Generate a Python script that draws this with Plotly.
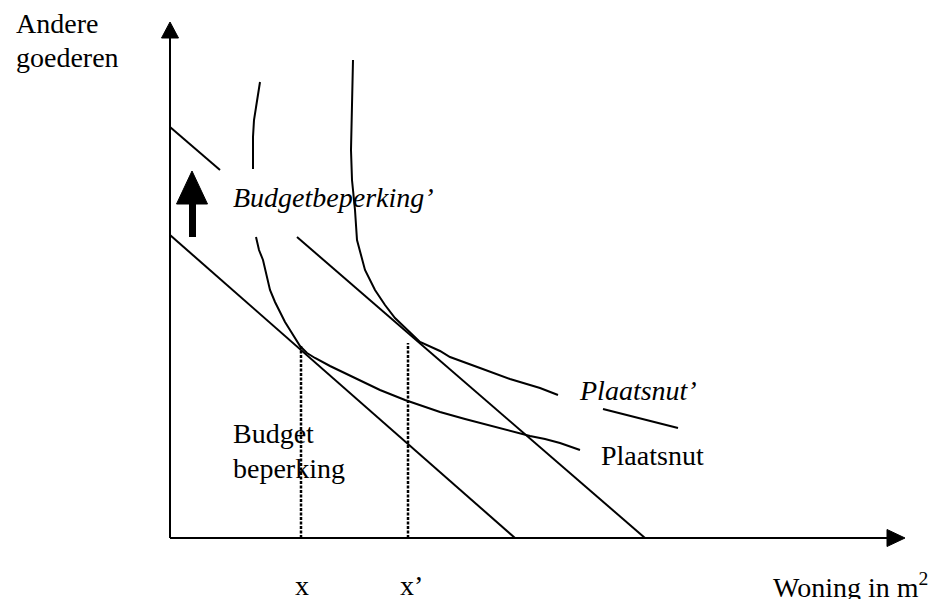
import plotly.graph_objects as go

# Diagram data (units: origin at axes crossing, x to the right, y upwards)
budget_low_x = [0, 345]
budget_low_y = [303, 0]
budget_high_x = [0, 50, None, 127, 475]
budget_high_y = [411, 368, None, 301, 0]

plaatsnut_x = [90, 87, 84, 83, 83, None, 86, 89, 93, 97, 100, 105, 110, 115, 120, 125, 130, 137,
               145, 160, 175, 185, 210, 235, 270, 295, 317, 343, 360, 375, 390, 410]
plaatsnut_y = [456, 438, 418, 401, 369, None, 301, 288, 278, 260, 248, 236, 226, 216, 208, 200, 192,
               185, 180, 172, 165, 160, 148, 138, 126, 119, 113, 106, 102, 99, 95, 88]

plaatsnut2_x = [183, 182, 181, 182, 185, 187, 190, 195, 205, 215, 225, 235, 250, 270, 280, 310,
                340, 370, 388, None, 433, 470, 508]
plaatsnut2_y = [478, 438, 388, 358, 328, 298, 286, 268, 248, 233, 220, 210, 196, 187, 181, 170,
                159, 150, 143, None, 129, 120, 110]

x_marks = [131, 238]
x_mark_tops = [192, 195]
x_labels = ["x", "x\u2019"]

axis_x_end = 735
axis_y_end = 516

shift_arrow_x = 22
shift_arrow_from = 301
shift_arrow_to = 367

texts = [
    ("Andere", -155, 514.5, False),
    ("goederen", -155, 480.5, False),
    ("Budgetbeperking\u2019", 62, 340.5, True),
    ("Plaatsnut\u2019", 408, 147.5, True),
    ("Plaatsnut", 430, 82.5, False),
    ("Budget", 62, 104.5, False),
    ("beperking", 62, 69.5, False),
    ("Woning in m<sup>2</sup>", 602, -47.5, False),
]

FONT = "Liberation Serif, Times New Roman, serif"
W, H = 947, 599
X0, Y0 = 170, 538  # pixel location of origin

fig = go.Figure()

def line(xs, ys, width=2, dash=None):
    fig.add_trace(go.Scatter(x=xs, y=ys, mode="lines", hoverinfo="skip",
                             line=dict(color="black", width=width, dash=dash),
                             connectgaps=False, showlegend=False))

def triangle(tip_x, tip_y, dx, dy, length, width):
    bx, by = tip_x - dx * length, tip_y - dy * length
    px, py = -dy, dx
    xs = [tip_x, bx + px * width / 2, bx - px * width / 2, tip_x]
    ys = [tip_y, by + py * width / 2, by - py * width / 2, tip_y]
    fig.add_trace(go.Scatter(x=xs, y=ys, mode="lines", fill="toself", fillcolor="black",
                             line=dict(color="black", width=1), hoverinfo="skip",
                             showlegend=False))

# axes
line([0, 0], [0, axis_y_end - 14], width=2)
line([0, axis_x_end - 16], [0, 0], width=2)
triangle(0, axis_y_end, 0, 1, 16, 17)
triangle(axis_x_end, 0, 1, 0, 18, 17)

# budget lines
line(budget_low_x, budget_low_y)
line(budget_high_x, budget_high_y)

# indifference curves
line(plaatsnut_x, plaatsnut_y)
line(plaatsnut2_x, plaatsnut2_y)

# dotted verticals
for xm, top in zip(x_marks, x_mark_tops):
    line([xm, xm], [0, top], width=2.5, dash="3px,1.5px")

# thick shift arrow
line([shift_arrow_x + 0.5, shift_arrow_x + 0.5], [shift_arrow_from, shift_arrow_to - 32], width=7)
triangle(shift_arrow_x, shift_arrow_to, 0, 1, 33, 31)

for txt, tx, ty, ital in texts:
    fig.add_annotation(x=tx, y=ty, text=txt, showarrow=False, xanchor="left", yanchor="middle",
                       font=dict(family=FONT, size=28, color="black",
                                 style="italic" if ital else "normal"),
                       borderpad=0)

fig.add_annotation(x=x_marks[0] + 1, y=-47.5, text=x_labels[0], showarrow=False,
                   xanchor="center", yanchor="middle",
                   font=dict(family=FONT, size=28, color="black"), borderpad=0)
fig.add_annotation(x=229, y=-47.5, text=x_labels[1], showarrow=False,
                   xanchor="left", yanchor="middle",
                   font=dict(family=FONT, size=28, color="black"), borderpad=0)

fig.update_layout(
    width=W, height=H, autosize=False,
    margin=dict(l=0, r=0, t=0, b=0, pad=0),
    paper_bgcolor="white", plot_bgcolor="white",
    xaxis=dict(range=[-X0, W - X0], visible=False, fixedrange=True),
    yaxis=dict(range=[Y0 - H, Y0], visible=False, fixedrange=True),
    showlegend=False,
)

fig.write_html("out.html", config={"displayModeBar": False},
               post_script="document.body.style.margin='0';")
